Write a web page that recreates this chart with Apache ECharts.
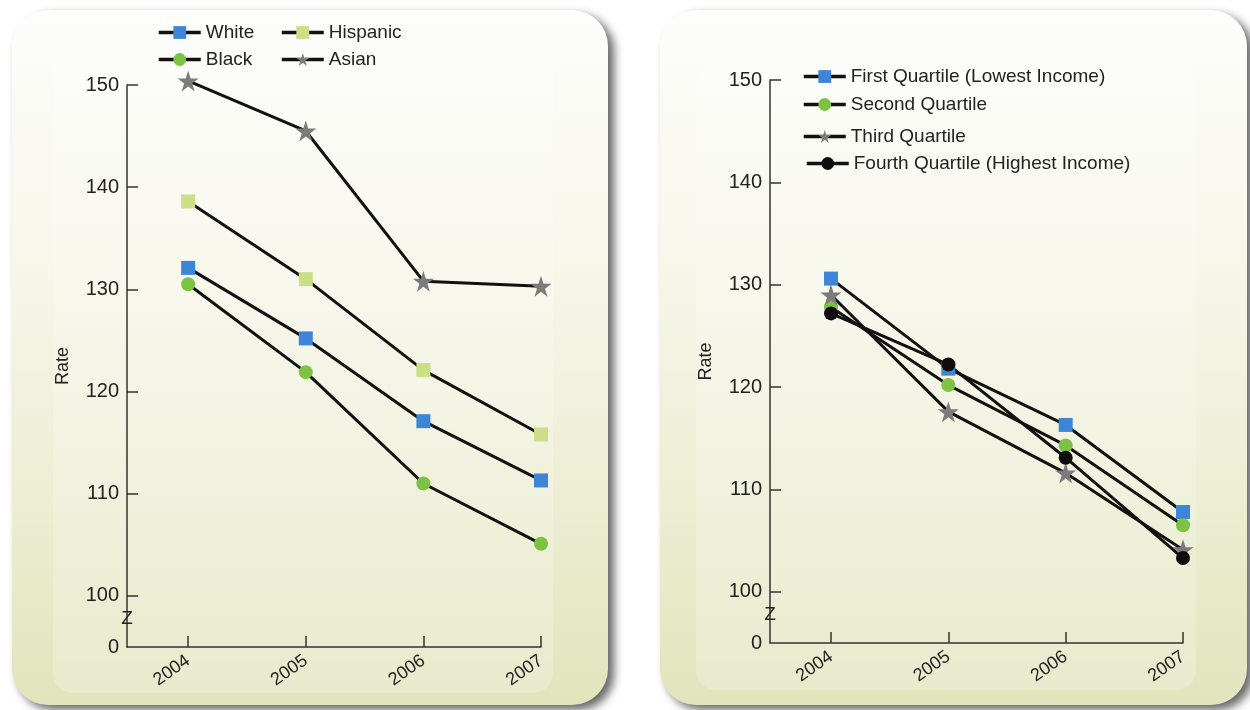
<!DOCTYPE html>
<html><head><meta charset="utf-8">
<script src="https://cdn.jsdelivr.net/npm/echarts@6/dist/echarts.min.js"></script>
<style>html,body{margin:0;padding:0;background:#fff}#c{width:1250px;height:710px}</style>
</head><body><div id="c"></div>
<script>
// ---- data ----
const years = [2004, 2005, 2006, 2007];
const white = [132.1, 125.2, 117.1, 111.3];
const hispanic = [138.6, 131.0, 122.1, 115.8];
const black = [130.5, 121.9, 111.0, 105.1];
const asian = [150.4, 145.5, 130.8, 130.3];
const q1 = [130.6, 121.8, 116.3, 107.8];
const q2 = [127.8, 120.2, 114.3, 106.5];
const q3 = [129.0, 117.6, 111.6, 104.1];
const q4 = [127.2, 122.2, 113.1, 103.3];
const yTickValues = [100, 110, 120, 130, 140, 150];
const yBreakValue = 95;        // axis floor shown as "0" (broken axis)
const yBreakLabel = '0';
const xMin = 2003.48;
const yLabel = 'Rate';

const FONT = '"Liberation Sans", Arial, Helvetica, sans-serif';
const STAR = 'path://M50,0 L61.2,34.5 L97.6,34.5 L68.2,55.9 L79.4,90.5 L50,69.1 L20.6,90.5 L31.8,55.9 L2.4,34.5 L38.8,34.5 Z';

function pts(vals) { return years.map((y, i) => [y, vals[i]]); }

function mkSeries(name, vals, idx, symbol, size, color) {
  return {
    name, type: 'line', xAxisIndex: idx, yAxisIndex: idx, data: pts(vals),
    symbol, symbolSize: size, showSymbol: true, clip: false,
    lineStyle: { color: '#111', width: 3 },
    itemStyle: { color, opacity: 1 },
    emphasis: { disabled: true }, animation: false, z: 3
  };
}

function mkX(idx) {
  return {
    type: 'value', gridIndex: idx, min: xMin, max: years[years.length - 1],
    axisLine: { show: true, lineStyle: { color: '#333', width: 1.5 } },
    axisTick: { show: true, inside: true, length: 11, customValues: years, lineStyle: { color: '#333', width: 1.5 } },
    axisLabel: { customValues: years, rotate: 35, margin: 12, fontSize: 18, color: '#222', fontFamily: FONT,
      formatter: v => String(v) },
    splitLine: { show: false }
  };
}
function mkY(idx) {
  return {
    type: 'value', gridIndex: idx, min: yBreakValue, max: 150,
    name: yLabel, nameLocation: 'middle', nameGap: 55, nameRotate: 90,
    nameTextStyle: { fontSize: 18, color: '#222', fontFamily: FONT },
    axisLine: { show: true, lineStyle: { color: '#333', width: 1.5 } },
    axisTick: { show: true, inside: true, length: 11, customValues: yTickValues, lineStyle: { color: '#333', width: 1.5 } },
    axisLabel: { customValues: [yBreakValue].concat(yTickValues), margin: 8, fontSize: 20, color: '#222', fontFamily: FONT,
      formatter: v => (v === yBreakValue ? yBreakLabel : String(v)) },
    splitLine: { show: false }
  };
}
function mkLegend(name, left, top) {
  return {
    data: [name], left, top, itemWidth: 42, itemHeight: 16, padding: 0, itemGap: 0,
    lineStyle: { width: 3.5, color: '#111' },
    textStyle: { fontSize: 19, color: '#222', fontFamily: FONT }, selectedMode: false
  };
}
const panelFill = {
  type: 'linear', x: 0, y: 0, x2: 0, y2: 1,
  colorStops: [{ offset: 0, color: '#fdfdfb' }, { offset: 0.3, color: '#f8f8ee' }, { offset: 0.65, color: '#eeefd6' }, { offset: 1, color: '#e2e4bd' }]
};
function panel(id, x, y, w, h) {
  return {
    type: 'rect', id, z: -10, silent: true,
    shape: { x, y, width: w, height: h, r: 36 },
    style: { fill: panelFill, shadowBlur: 10, shadowOffsetX: 6, shadowOffsetY: 5, shadowColor: 'rgba(0,0,0,0.6)' }
  };
}
function inner(id, x, y, w, h) {
  return { type: 'rect', id, z: -9, silent: true, shape: { x, y, width: w, height: h, r: 20 }, style: { fill: 'rgba(255,255,255,0.22)' } };
}

const chart = echarts.init(document.getElementById('c'), null, { renderer: 'canvas' });
const option = {
  backgroundColor: '#ffffff',
  animation: false,
  grid: [
    { left: 127, top: 85, width: 414, height: 562 },
    { left: 770, top: 80, width: 413, height: 563 }
  ],
  xAxis: [mkX(0), mkX(1)],
  yAxis: [mkY(0), mkY(1)],
  legend: [
    mkLegend('White', 157, 23), mkLegend('Hispanic', 280, 23),
    mkLegend('Black', 157, 50), mkLegend('Asian', 280, 50),
    mkLegend('First Quartile (Lowest Income)', 802, 67),
    mkLegend('Second Quartile', 802, 95),
    mkLegend('Third Quartile', 802, 127),
    mkLegend('Fourth Quartile (Highest Income)', 805, 154)
  ],
  series: [
    mkSeries('White', white, 0, 'rect', 14, '#3d85d6'),
    mkSeries('Hispanic', hispanic, 0, 'rect', 14, '#cbdf86'),
    mkSeries('Black', black, 0, 'circle', 14, '#7dc242'),
    mkSeries('Asian', asian, 0, STAR, 21, '#7b7b7b'),
    mkSeries('First Quartile (Lowest Income)', q1, 1, 'rect', 14, '#3d85d6'),
    mkSeries('Second Quartile', q2, 1, 'circle', 14, '#7dc242'),
    mkSeries('Third Quartile', q3, 1, STAR, 21, '#7b7b7b'),
    mkSeries('Fourth Quartile (Highest Income)', q4, 1, 'circle', 14, '#0d0d0d')
  ],
  graphic: [
    panel('p0', 12, 10, 596, 695),
    panel('p1', 660, 10, 587, 695),
    inner('i0', 53, 40, 500, 653),
    inner('i1', 696, 67, 500, 623)
  ]
};
chart.setOption(option);

// axis-break marks placed through the axes' own scales
const b0 = chart.convertToPixel({ xAxisIndex: 0, yAxisIndex: 0 }, [xMin, 97.8]);
const b1 = chart.convertToPixel({ xAxisIndex: 1, yAxisIndex: 1 }, [xMin, 97.8]);
function zMark(id, p) {
  return { type: 'text', id, z: 10, silent: true, x: p[0], y: p[1],
    style: { text: 'Z', fontSize: 19, fontFamily: FONT, fill: '#222', align: 'center', verticalAlign: 'middle' } };
}
chart.setOption({ graphic: [zMark('z0', b0), zMark('z1', b1)] });
</script>
</body></html>
